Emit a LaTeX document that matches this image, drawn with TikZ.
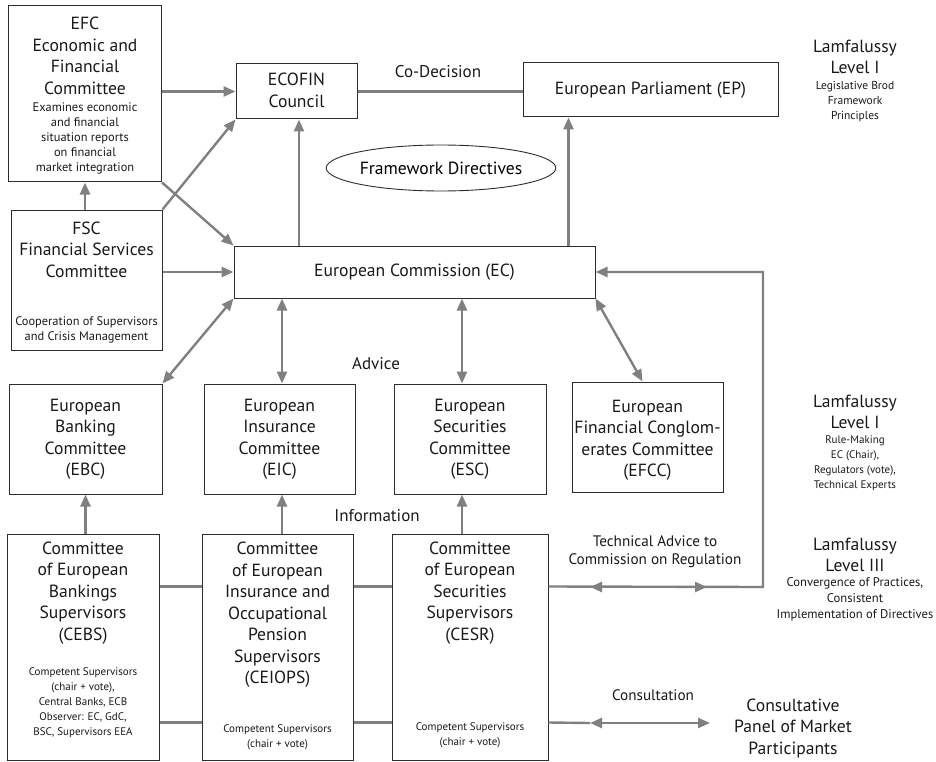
\documentclass[tikz,border=0pt]{standalone}
\usepackage{fontspec}
\setmainfont{PT Sans}
\usetikzlibrary{arrows.meta,calc,shapes.geometric}
\definecolor{cgray}{RGB}{128,128,128}
\definecolor{cbord}{RGB}{45,45,45}
\newcommand\bigf{\fontsize{17.6}{21.5}\selectfont}
\newcommand\lamf{\fontsize{17.6}{21}\selectfont}
\newcommand\smf{\fontsize{11}{15}\selectfont}
\newcommand\smtop{\fontsize{11.5}{15}\selectfont}
\newcommand\smefc{\fontsize{12.4}{15}\selectfont}
\newcommand\smlam{\fontsize{12.6}{16}\selectfont}
\newcommand\labf{\fontsize{17}{18}\selectfont}
\newcommand\labs{\fontsize{15.2}{18}\selectfont}
\begin{document}
\begin{tikzpicture}[x=1pt,y=-1pt,
  box/.style={draw=cbord, line width=1pt, inner sep=0pt},
  txt/.style={align=center, inner sep=0pt, text=black!90},
  conn/.style={draw=cgray, line width=2.4pt},
  arr/.style={conn, -{Triangle[length=12pt,width=10pt]}},
  dbl/.style={conn, {Triangle[length=12pt,width=10pt]}-{Triangle[length=12pt,width=10pt]}}]
\useasboundingbox (0,0) rectangle (936,762);

% ---------- boxes ----------
\node[box, minimum width=153pt, minimum height=176pt] (efc) at (85,94) {};
\node[box, minimum width=121pt, minimum height=55pt] (ecofin) at (296.5,91.5) {};
\node[box, minimum width=255pt, minimum height=54pt] (ep) at (650.5,90) {};
\node[box, minimum width=151pt, minimum height=140pt] (fsc) at (86.5,280) {};
\node[box, minimum width=361pt, minimum height=52pt] (ec) at (414.5,272) {};
\node[draw=cbord, line width=0.9pt, ellipse, minimum width=198pt, minimum height=46pt, inner sep=0pt, font=\bigf] (fd) at (441,168) {Framework Directives};
\node[box, minimum width=153pt, minimum height=110pt] (ebc) at (85.5,439) {};
\node[box, minimum width=151pt, minimum height=110pt] (eic) at (279.5,439) {};
\node[box, minimum width=152pt, minimum height=110pt] (esc) at (470,439) {};
\node[box, minimum width=151pt, minimum height=110pt] (efcc) at (647.5,437) {};
\node[box, minimum width=152pt, minimum height=226pt] (cebs) at (83,647) {};
\node[box, minimum width=151pt, minimum height=226pt] (ceiops) at (277.5,647) {};
\node[box, minimum width=156pt, minimum height=226pt] (cesr) at (470,647) {};

% ---------- texts ----------
\node[txt, font=\bigf] (efct) at (85,56) {EFC\\Economic and\\Financial\\Committee};
\node[txt, font=\smefc] (efcs) at (85,138) {Examines economic\\and financial\\situation reports\\on financial\\market integration};
\node[txt, font=\bigf] (ecofint) at (296.5,90.5) {ECOFIN\\Council};
\node[txt, font=\bigf] (ept) at (650.5,90) {European Parliament (EP)};
\node[txt, font=\labf] (codec) at (438,72) {Co-Decision};
\node[txt, font=\lamf] (lam1) at (855,57) {Lamfalussy\\Level I};
\node[txt, font=\smtop] (lam1s) at (855,101.5) {Legislative Brod\\Framework\\Principles};
\node[txt, font=\bigf] (fsct) at (86.5,249.5) {FSC\\Financial Services\\Committee};
\node[txt, font=\smefc] (fscs) at (86.5,329.5) {Cooperation of Supervisors\\and Crisis Management};
\node[txt, font=\bigf] (ect) at (414.5,272) {European Commission (EC)};
\node[txt, font=\labf] (advice) at (376,364) {Advice};
\node[txt, font=\bigf] (ebct) at (85.5,439.5) {European\\Banking\\Committee\\(EBC)};
\node[txt, font=\bigf] (eict) at (279.5,439.5) {European\\Insurance\\Committee\\(EIC)};
\node[txt, font=\bigf] (esct) at (470,439.5) {European\\Securities\\Committee\\(ESC)};
\node[txt, font=\bigf] (efcct) at (647.5,440.5) {European\\Financial Conglom-\\erates Committee\\(EFCC)};
\node[txt, font=\lamf] (lam2) at (855,411.5) {Lamfalussy\\Level I};
\node[txt, font=\smf] (lam2s) at (855,463) {Rule-Making\\EC (Chair),\\Regulators (vote),\\Technical Experts};
\node[txt, font=\labf] (info) at (377,516) {Information};
\node[txt, font=\labs] (techadv) at (655,552) {Technical Advice to\\Commission on Regulation};
\node[txt, font=\lamf] (lam3) at (855,554.5) {Lamfalussy\\Level III};
\node[txt, font=\smlam] (lam3s) at (855,599) {Convergence of Practices,\\Consistent\\Implementation of Directives};
\node[txt, font=\bigf] (cebst) at (83,593) {Committee\\of European\\Bankings\\Supervisors\\(CEBS)};
\node[txt, font=\smf] (cebss) at (83,703) {Competent Supervisors\\(chair + vote),\\Central Banks, ECB\\Observer: EC, GdC,\\BSC, Supervisors EEA};
\node[txt, font=\bigf] (ceiopst) at (277.5,615) {Committee\\of European\\Insurance and\\Occupational\\Pension\\Supervisors\\(CEIOPS)};
\node[txt, font=\smf] (ceiopss) at (277.5,737.5) {Competent Supervisors\\(chair + vote)};
\node[txt, font=\bigf] (cesrt) at (470,593) {Committee\\of European\\Securities\\Supervisors\\(CESR)};
\node[txt, font=\smf] (cesrs) at (470,735.5) {Competent Supervisors\\(chair + vote)};
\node[txt, font=\labs] (consult) at (653,695) {Consultation};
\node[txt, font=\bigf] (panel) at (793,728) {Consultative\\Panel of Market\\Participants};

% ---------- helper coordinates ----------
\coordinate (epa) at ($(ep.south west)+(46,0)$);
\coordinate (ecoa) at ($(ecofin.south)+(2.5,0)$);
\coordinate (esca) at ($(esc.north)+(-8,0)$);
\coordinate (escb) at ($(esc.south)+(-8,0)$);
\coordinate (eica) at ($(eic.north)+(2.5,0)$);
\coordinate (eicb) at ($(eic.south)+(2.5,0)$);
\coordinate (efcca) at ($(efcc.north)+(-5,0)$);
\coordinate (l1) at ($(cebs.north east)+(0,53)$);
\coordinate (l2) at ($(cebs.north east)+(0,189)$);
\coordinate (br) at (763,587);
\coordinate (ta1) at (590,587);
\coordinate (ta2) at (707,587);
\coordinate (ca1) at (590,723);
\coordinate (ca2) at (710,723);

% ---------- connectors ----------
\draw[arr] (ecofin.west -| efc.east) -- (ecofin.west);
\draw[arr] (fsc.north east) -- (ecofin.south west);
\draw[arr] (efc.south east) -- (ec.north west);
\draw[arr] (efc.south |- fsc.north) -- (efc.south);
\draw[arr] (ec.west -| fsc.east) -- (ec.west);
\draw[arr] (ecoa |- ec.north) -- (ecoa);
\draw[arr] (epa |- ec.north) -- (epa);
\draw[conn] (ecofin.east) -- (ecofin.east -| ep.west);
\draw[dbl] (ebc.north east) -- (ec.south west);
\draw[dbl] (eica) -- (eica |- ec.south);
\draw[dbl] (esca) -- (esca |- ec.south);
\draw[dbl] (ec.south east) -- (efcca);
\draw[arr] (cebs.north -| ebc.south) -- (ebc.south);
\draw[arr] (eicb |- ceiops.north) -- (eicb);
\draw[arr] (escb |- cesr.north) -- (escb);
\draw[conn] (l1) -- (l1 -| ceiops.west);
\draw[conn] (l2) -- (l2 -| ceiops.west);
\draw[conn] (l1 -| ceiops.east) -- (l1 -| cesr.west);
\draw[conn] (l2 -| ceiops.east) -- (l2 -| cesr.west);
\draw[arr] (l1 -| cesr.east) -- (br) |- (ec.east);
\draw[dbl] (ta1) -- (ta2);
\draw[conn] (l2 -| cesr.east) -- (ca1);
\draw[dbl] (ca1) -- (ca2);
\end{tikzpicture}
\end{document}
